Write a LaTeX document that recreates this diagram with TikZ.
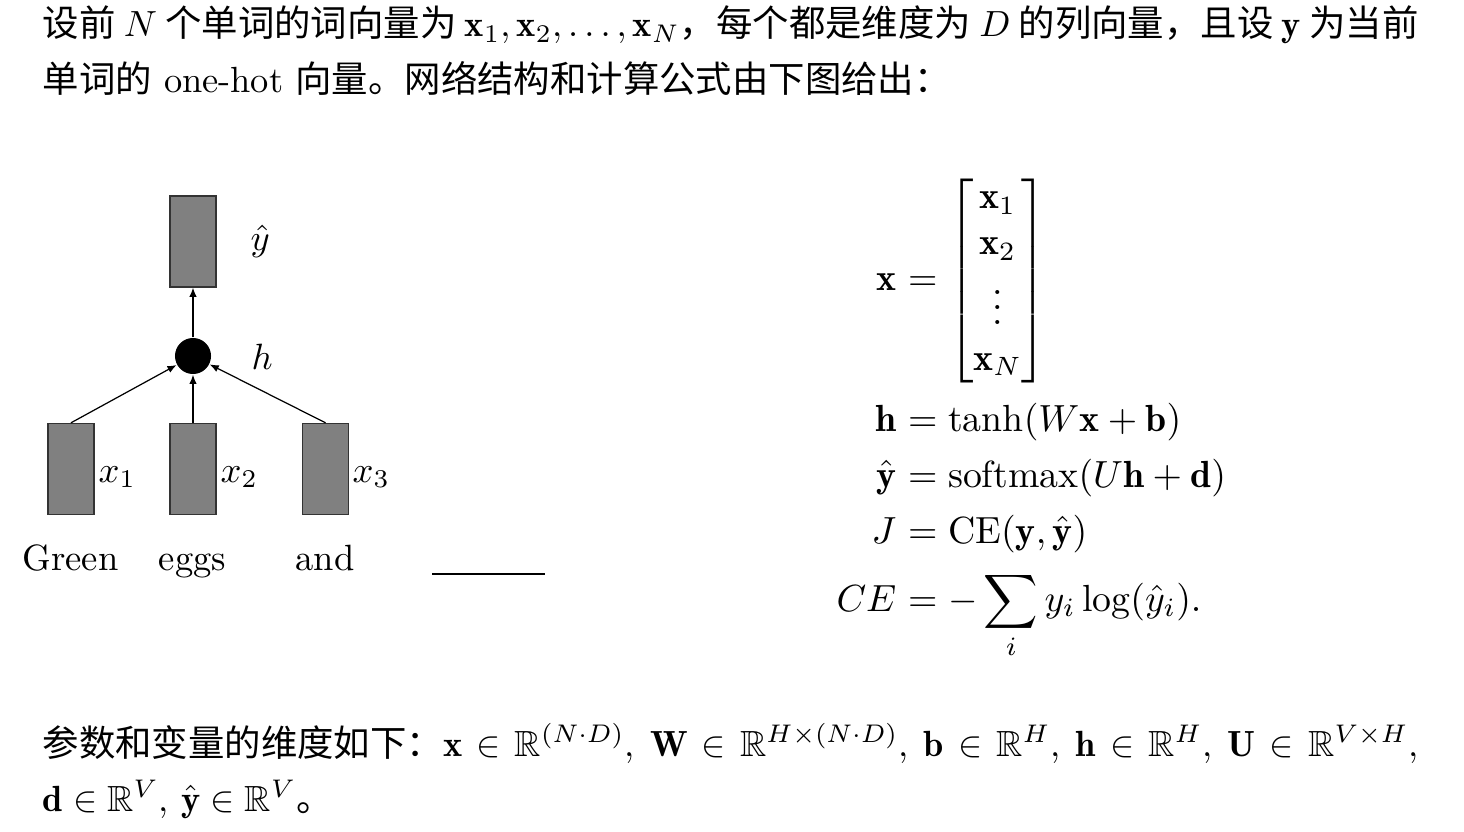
\documentclass[tikz,border=0pt]{standalone}
\usepackage{amsmath,amssymb}
\usepackage{graphicx}
\usepackage{fontspec}
\newfontfamily\cjk{Noto Sans CJK SC}
\usetikzlibrary{arrows.meta}
\newcommand{\txs}[1]{\scalebox{1.04}{#1}}
\newcommand{\lbs}[1]{\scalebox{1.045}{#1}}
\newcommand{\eqs}[1]{\scalebox{1.08}{#1}}
\begin{document}
\begin{tikzpicture}[x=0.285714pt,y=-0.285714pt,
  vecbox/.style={draw=black!80, fill=gray, line width=0.4pt, minimum width=13.1pt, minimum height=26pt, inner sep=0pt},
  hid/.style={circle, fill=black, minimum size=10.3pt, inner sep=0pt},
  lbl/.style={inner sep=0pt, anchor=base west},
  word/.style={inner sep=0pt, anchor=base},
  arr/.style={-{Latex[length=2.6pt,width=2.1pt]}, line width=0.35pt},
  txt/.style={inner sep=0pt, anchor=base west},
  eql/.style={inner sep=0pt, anchor=base east},
  eqr/.style={inner sep=0pt, anchor=base west}]
\useasboundingbox (0,0) rectangle (1464,832);

% top text
\node[txt] (t1) at (42,37) {\txs{\makebox[378pt][s]{{\cjk 设前} $N$ {\cjk 个单词的词向量为} $\mathbf{x}_1,\mathbf{x}_2,\ldots,\mathbf{x}_N${\cjk ，每个都是维度为} $D$ {\cjk 的列向量，且设} $\mathbf{y}$ {\cjk 为当前}}}};
\node[txt] (t2) at (42,93) {\txs{{\cjk 单词的} one-hot {\cjk 向量。网络结构和计算公式由下图给出：}}};

% network
\node[vecbox] (yh) at (193,241.5) {};
\node[hid] (h) at (193,356) {};
\node[vecbox] (x1) at (71,469) {};
\node[vecbox] (x2) at (193,469) {};
\node[vecbox] (x3) at (325.5,469) {};
\draw[arr] (x1.north) -- (h);
\draw[arr] (x2.north) -- (h);
\draw[arr] (x3.north) -- (h);
\draw[arr] (h) -- (yh.south);
\node[lbl] (lyh) at (250,251) {\lbs{$\hat{y}$}};
\node[lbl] (lh) at (251,370) {\lbs{$h$}};
\node[lbl] (lx1) at (98,482) {\lbs{$x_1$}};
\node[lbl] (lx2) at (220,482) {\lbs{$x_2$}};
\node[lbl] (lx3) at (352,482) {\lbs{$x_3$}};
\node[word] (w1) at (70.5,570) {\lbs{Green}};
\node[word] (w2) at (192.5,570) {\lbs{eggs}};
\node[word] (w3) at (325,570) {\lbs{and}};
\coordinate (ua) at (432,574);
\coordinate (ub) at (545,574);
\draw[line width=0.4pt] (ua) -- (ub);

% equations
\node[eql] (e1l) at (897,290) {\eqs{$\mathbf{x}$}};
\node[eqr] (e1r) at (897,290) {\eqs{$\displaystyle {}=\begin{bmatrix}\mathbf{x}_1\\ \mathbf{x}_2\\ \vdots\\ \mathbf{x}_N\end{bmatrix}$}};
\node[eql] (e2l) at (897,431) {\eqs{$\mathbf{h}$}};
\node[eqr] (e2r) at (897,431) {\eqs{$\displaystyle {}=\tanh(W\mathbf{x}+\mathbf{b})$}};
\node[eql] (e3l) at (897,487) {\eqs{$\hat{\mathbf{y}}$}};
\node[eqr] (e3r) at (897,487) {\eqs{$\displaystyle {}=\operatorname{softmax}(U\mathbf{h}+\mathbf{d})$}};
\node[eql] (e4l) at (897,543) {\eqs{$J$}};
\node[eqr] (e4r) at (897,543) {\eqs{$\displaystyle {}=\mathrm{CE}(\mathbf{y},\hat{\mathbf{y}})$}};
\node[eql] (e5l) at (897,611) {\eqs{$CE$}};
\node[eqr] (e5r) at (897,611) {\eqs{$\displaystyle {}=-\sum_i y_i\log(\hat{y}_i).$}};

% bottom text
\node[txt] (b1) at (42,756) {\txs{\makebox[378pt][s]{{\cjk 参数和变量的维度如下：}$\mathbf{x}\in\mathbb{R}^{(N\cdot D)}$, $\mathbf{W}\in\mathbb{R}^{H\times(N\cdot D)}$, $\mathbf{b}\in\mathbb{R}^{H}$, $\mathbf{h}\in\mathbb{R}^{H}$, $\mathbf{U}\in\mathbb{R}^{V\times H}$,}}};
\node[txt] (b2) at (42,811) {\txs{$\mathbf{d}\in\mathbb{R}^V$, $\hat{\mathbf{y}}\in\mathbb{R}^V${\cjk 。}}};
\end{tikzpicture}
\end{document}
